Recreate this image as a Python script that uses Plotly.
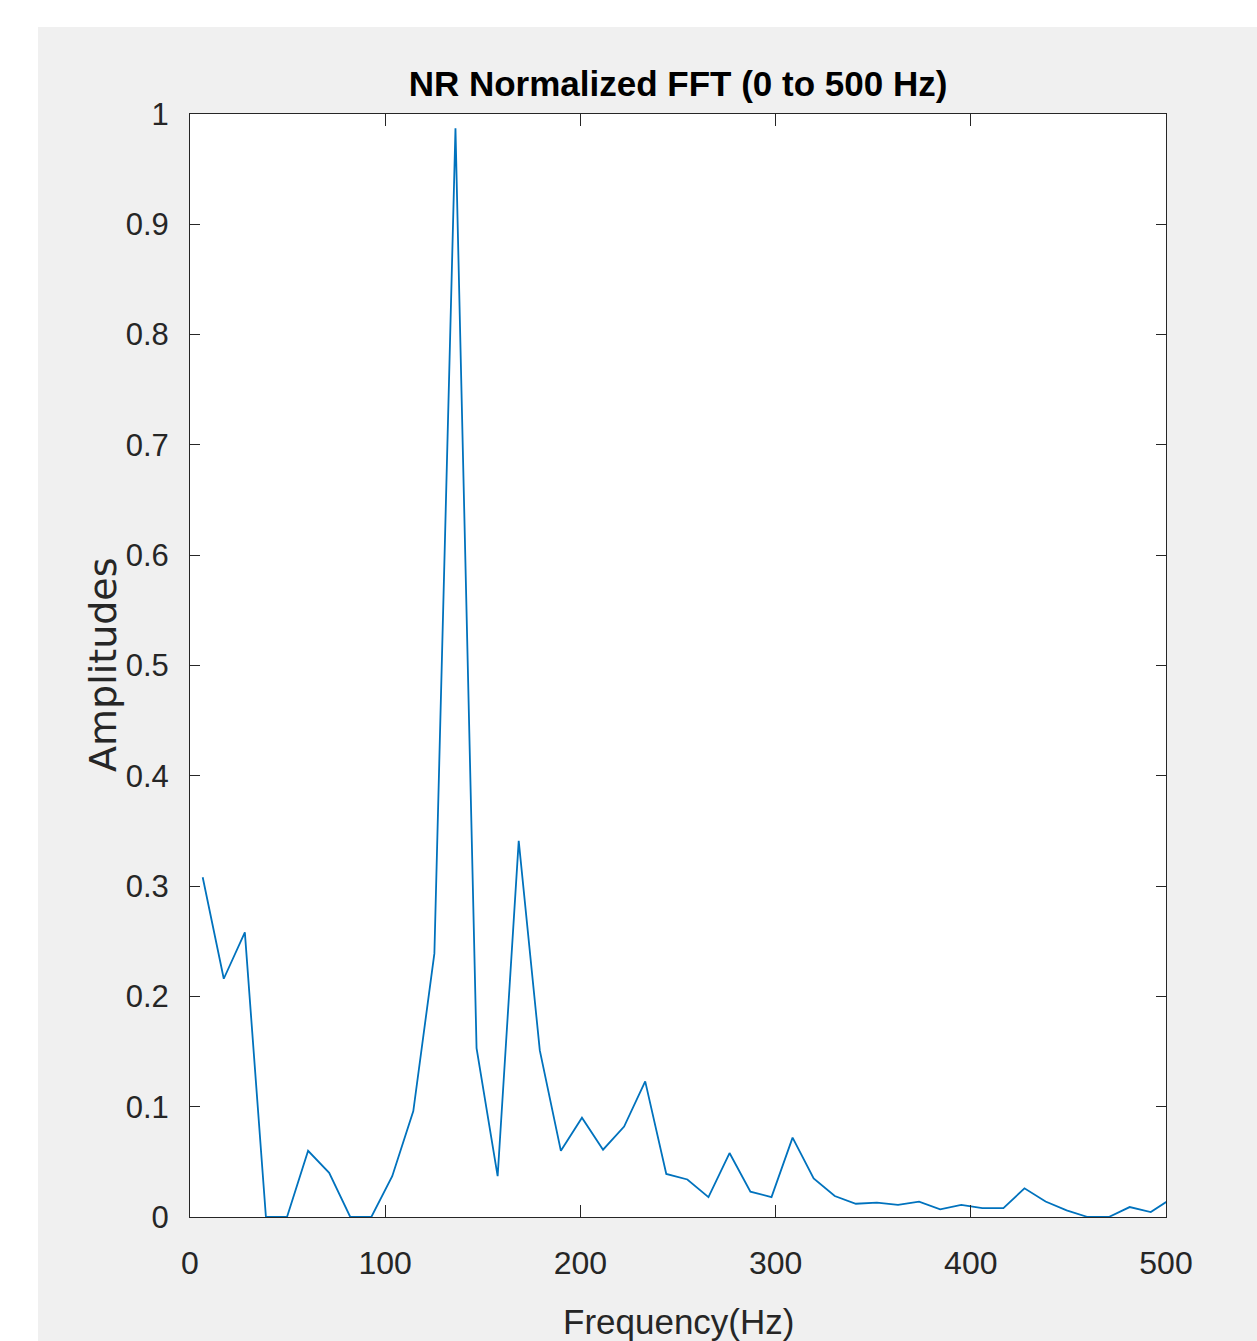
import plotly.graph_objects as go

# Data
freq_hz = [6.5, 17.3, 28.1, 38.9, 49.7, 60.5, 71.3, 82.1, 92.9, 103.6,
           114.4, 125.2, 136.0, 146.8, 157.6, 168.4, 179.2, 190.0, 200.8, 211.6,
           222.4, 233.2, 244.0, 254.8, 265.6, 276.4, 287.1, 297.9, 308.7, 319.5,
           330.3, 341.1, 351.9, 362.7, 373.5, 384.3, 395.1, 405.9, 416.7, 427.5,
           438.3, 449.1, 459.9, 470.7, 481.4, 492.2, 503.0]
amplitude = [0.308, 0.216, 0.258, 0.0, 0.0, 0.060, 0.040, 0.0, 0.0, 0.037,
             0.096, 0.239, 0.987, 0.153, 0.037, 0.341, 0.151, 0.060, 0.090, 0.061,
             0.082, 0.123, 0.039, 0.034, 0.018, 0.058, 0.023, 0.018, 0.072, 0.035,
             0.019, 0.012, 0.013, 0.011, 0.014, 0.007, 0.011, 0.008, 0.008, 0.026,
             0.014, 0.006, 0.0, 0.0, 0.009, 0.0045, 0.017]

x_ticks = [0, 100, 200, 300, 400, 500]
x_tick_labels = ["0", "100", "200", "300", "400", "500"]
y_ticks = [0, 0.1, 0.2, 0.3, 0.4, 0.5, 0.6, 0.7, 0.8, 0.9, 1.0]
y_tick_labels = ["0", "0.1", "0.2", "0.3", "0.4", "0.5", "0.6", "0.7", "0.8", "0.9", "1"]

title_text = "NR Normalized FFT (0 to 500 Hz)"
x_title = "Frequency(Hz)"
y_title = "Amplitudes"

W, H = 1257, 1341
L, R, T, B = 190, 1257 - 1166, 114, 1341 - 1217
pw, ph = W - L - R, H - T - B

def px(xpix):
    return (xpix - L) / pw

def py(ypix):
    return (H - B - ypix) / ph

sans = "Liberation Sans, Arial, Helvetica, sans-serif"
axis_col = "#262626"

fig = go.Figure()
fig.add_trace(go.Scatter(x=freq_hz, y=amplitude, mode="lines",
                         line=dict(color="#0072BD", width=1.8),
                         showlegend=False, cliponaxis=True))

fig.update_layout(
    width=W, height=H,
    margin=dict(l=L, r=R, t=T, b=B, pad=0),
    paper_bgcolor="#f0f0f0",
    plot_bgcolor="#ffffff",
    showlegend=False,
    title=dict(text="<b>" + title_text + "</b>", x=0.5, xref="paper",
               y=1 - 84 / H, yref="container", yanchor="middle", xanchor="center",
               font=dict(family=sans, size=35, color="#000000")),
    xaxis=dict(range=[0, 500], tickvals=x_ticks, ticktext=x_tick_labels,
               showgrid=False, zeroline=False, showline=True, linecolor=axis_col,
               linewidth=1, mirror="allticks", ticks="inside", ticklen=12,
               tickcolor=axis_col, tickwidth=1,
               tickfont=dict(family=sans, size=32, color=axis_col),
               ticklabelstandoff=18),
    yaxis=dict(range=[0, 1], tickvals=y_ticks, ticktext=y_tick_labels,
               showgrid=False, zeroline=False, showline=True, linecolor=axis_col,
               linewidth=1, mirror="allticks", ticks="inside", ticklen=10,
               tickcolor=axis_col, tickwidth=1,
               tickfont=dict(family=sans, size=31, color=axis_col),
               ticklabelstandoff=14),
    shapes=[
        dict(type="rect", xref="paper", yref="paper", layer="below",
             x0=px(0), x1=px(W), y0=py(27), y1=py(0),
             fillcolor="#ffffff", line=dict(width=0)),
        dict(type="rect", xref="paper", yref="paper", layer="below",
             x0=px(0), x1=px(38), y0=py(H), y1=py(0),
             fillcolor="#ffffff", line=dict(width=0)),
    ],
    annotations=[
        dict(text=x_title, xref="paper", yref="paper", x=0.5, y=py(1321),
             xanchor="center", yanchor="middle", showarrow=False,
             font=dict(family=sans, size=35, color=axis_col)),
        dict(text=y_title, xref="paper", yref="paper", x=px(103), y=py(665),
             xanchor="center", yanchor="middle", showarrow=False, textangle=-90,
             font=dict(family="DejaVu Sans, Liberation Sans, sans-serif", size=38,
                       color=axis_col)),
    ],
)

fig.write_html("out.html", config={"displayModeBar": False},
               post_script="document.body.style.margin='0';document.body.style.padding='0';")
